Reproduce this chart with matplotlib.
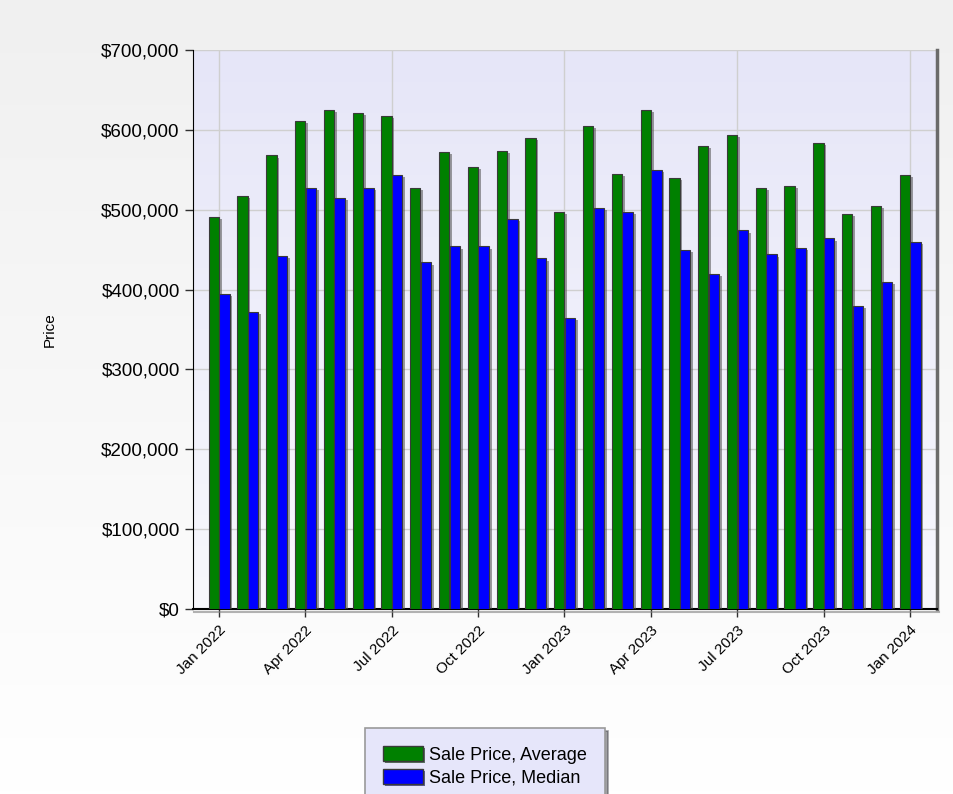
import matplotlib
matplotlib.use("Agg")
import matplotlib.pyplot as plt
import matplotlib.patheffects as pe
from matplotlib.patches import Patch
from matplotlib.ticker import FuncFormatter, MultipleLocator
import numpy as np

plt.rcParams['font.family'] = ['Liberation Sans', 'DejaVu Sans']

# monthly sale prices, Jan 2022 .. Jan 2024
months = ["Jan 2022", "Feb 2022", "Mar 2022", "Apr 2022", "May 2022", "Jun 2022",
          "Jul 2022", "Aug 2022", "Sep 2022", "Oct 2022", "Nov 2022", "Dec 2022",
          "Jan 2023", "Feb 2023", "Mar 2023", "Apr 2023", "May 2023", "Jun 2023",
          "Jul 2023", "Aug 2023", "Sep 2023", "Oct 2023", "Nov 2023", "Dec 2023",
          "Jan 2024"]
avg_price = [491000, 517000, 568000, 611000, 625000, 621000, 617000, 527000,
             572000, 554000, 574000, 590000, 497000, 605000, 545000, 625000,
             540000, 580000, 594000, 527000, 530000, 584000, 495000, 505000, 543000]
med_price = [395000, 372000, 442000, 527000, 515000, 527000, 543000, 434000,
             454000, 454000, 488000, 439000, 364000, 502000, 497000, 550000,
             450000, 419000, 474000, 444000, 452000, 464000, 379000, 409000, 460000]
series_names = ["Sale Price, Average", "Sale Price, Median"]

green = "#008000"
blue = "#0000ff"
edge = "#3a3a3a"

fig = plt.figure(figsize=(9.54, 7.94), dpi=100)

# figure background gradient
bg = fig.add_axes([0, 0, 1, 1], zorder=-10)
grad = np.linspace(0, 1, 256).reshape(-1, 1)
bg.imshow(grad, aspect='auto', cmap=matplotlib.colors.LinearSegmentedColormap.from_list(
    'bgf', ['#f0f0f0', '#ffffff']), extent=[0, 1, 0, 1])
bg.axis('off')

ax = fig.add_axes([0.2023, 0.233, 0.780, 0.704])
x = np.arange(len(months))
w = 0.36

ax.set_xlim(-0.9, 24.94)
ax.set_ylim(0, 700000)

# plot area gradient
ax.imshow(grad, aspect='auto', zorder=0,
          cmap=matplotlib.colors.LinearSegmentedColormap.from_list('bga', ['#e6e6f8', '#f8f8fd']),
          extent=[-0.9, 24.94, 0, 700000])

shadow = [pe.SimplePatchShadow(offset=(2, -1.5), shadow_rgbFace='#505050', alpha=0.55), pe.Normal()]
ax.bar(x - 0.18, avg_price, w, color=green, edgecolor=edge, linewidth=0.8, zorder=3,
       path_effects=shadow)
ax.bar(x + 0.19, med_price, w, color=blue, edgecolor=edge, linewidth=0.8, zorder=3,
       path_effects=shadow)

ax.yaxis.set_major_locator(MultipleLocator(100000))
ax.yaxis.set_major_formatter(FuncFormatter(lambda v, p: "${:,.0f}".format(v)))
ax.set_xticks(x[::3])
ax.set_xticklabels(months[::3], rotation=45, ha='right', rotation_mode='anchor', fontsize=11)
ax.tick_params(axis='y', labelsize=13.5, length=6, width=1, color='#303030')
ax.tick_params(axis='x', length=6, width=1, color='#303030', pad=4)

for v in range(100000, 700001, 100000):
    ax.axhline(v, color='#cfcfcf', lw=1, zorder=1)
for i in x[::6]:
    ax.axvline(i, color='#cfcfcf', lw=1, zorder=1)

ax.spines['top'].set_visible(False)
ax.spines['right'].set_color('#6a6a6a')
ax.spines['right'].set_linewidth(2.5)
ax.spines['left'].set_color('black')
ax.spines['bottom'].set_color('black')
ax.spines['bottom'].set_linewidth(1.5)
ax.spines['bottom'].set_path_effects([pe.SimpleLineShadow(offset=(1, -2), shadow_color='#808080', alpha=0.6), pe.Normal()])

fig.text(50 / 954, 1 - 330 / 794, "Price", rotation=90, fontsize=11, va='center', ha='center')

handles = [Patch(facecolor=green, edgecolor=edge, label=series_names[0]),
           Patch(facecolor=blue, edgecolor=edge, label=series_names[1])]
leg = fig.legend(handles=handles, loc='upper left', bbox_to_anchor=(365 / 954, 1 - 728 / 794),
                 fontsize=13, frameon=True, fancybox=False, shadow=True,
                 handlelength=2.2, handleheight=0.9, handletextpad=0.35, labelspacing=0.3,
                 borderpad=1.0, borderaxespad=0)
leg.get_frame().set_facecolor('#e6e6fa')
leg.get_frame().set_edgecolor('#9a9a9a')
leg.get_frame().set_linewidth(1.2)
for h in leg.legend_handles:
    h.set_path_effects([pe.SimplePatchShadow(offset=(1.5, -1.5), alpha=0.6), pe.Normal()])

fig.savefig("out.png", dpi=100)
